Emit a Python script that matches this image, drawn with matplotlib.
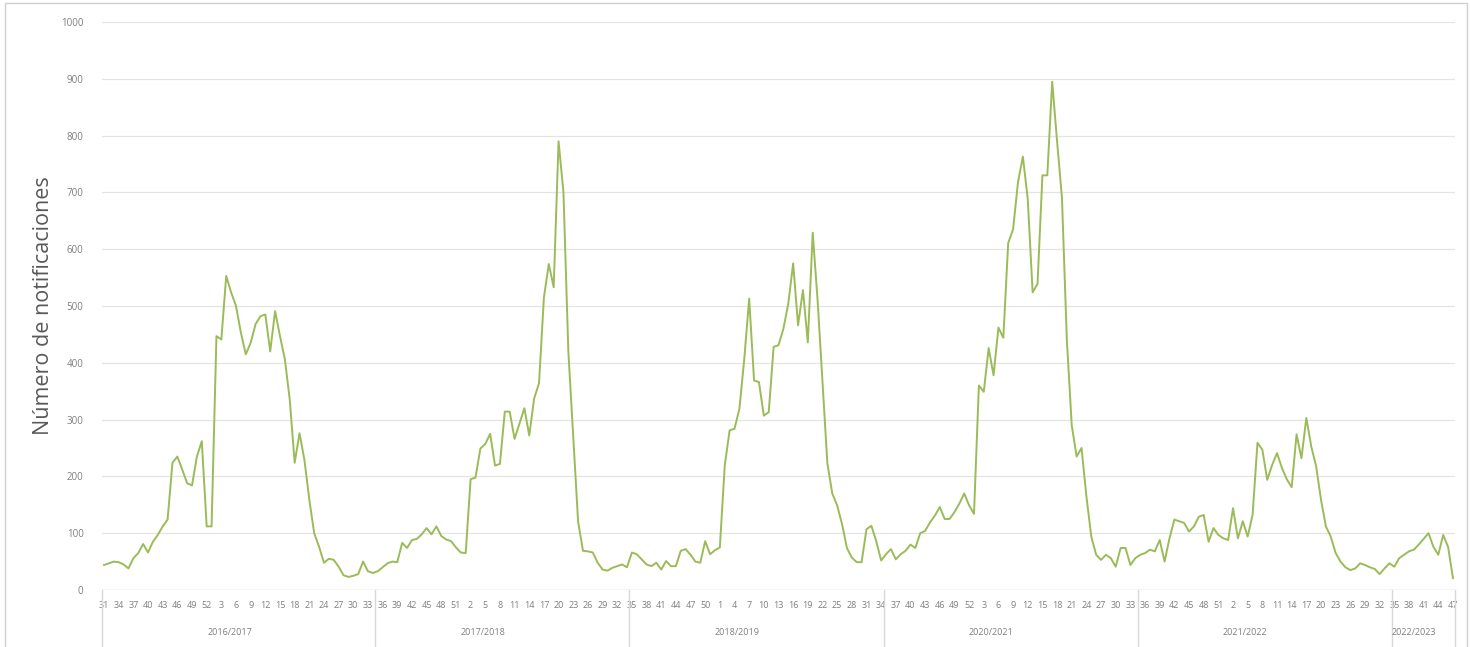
import matplotlib
matplotlib.use("Agg")
import matplotlib.pyplot as plt
import matplotlib.transforms as mtransforms
from matplotlib.patches import Rectangle

# ---------------- data ----------------
seasons = ["2016/2017", "2017/2018", "2018/2019", "2020/2021", "2021/2022", "2022/2023"]
season_first_week = [31, 35, 35, 35, 35, 35]
season_last_week = [34, 34, 34, 34, 34, 47]
season_crosses_year = [True, True, True, True, True, False]

notif_2016_17 = [44, 47, 50, 49, 45, 38, 56, 65, 81, 66,
                 85, 97, 112, 124, 224, 235, 212, 188, 184, 235,
                 262, 112, 112, 447, 441, 553, 524, 500, 453, 415,
                 435, 468, 482, 485, 420, 491, 447, 406, 335, 224,
                 276, 229, 159, 100, 76, 48, 55, 53, 41, 26,
                 23, 25, 28, 50, 33, 30]
notif_2017_18 = [33, 40, 47, 50, 49, 83, 74, 88, 90, 98,
                 109, 98, 112, 95, 89, 86, 75, 66, 65, 195,
                 198, 249, 257, 275, 219, 222, 314, 314, 266, 293,
                 320, 272, 337, 364, 515, 574, 533, 790, 700, 420,
                 270, 120, 69, 68, 66, 48, 36, 34, 39, 42, 45, 40]
notif_2018_19 = [66, 63, 54, 45, 42, 48, 36, 51, 42, 42,
                 69, 72, 62, 50, 48, 86, 63, 70, 75, 219,
                 281, 284, 319, 407, 513, 369, 366, 307, 313, 428,
                 431, 460, 504, 575, 466, 528, 436, 629, 510, 367,
                 223, 170, 149, 116, 74, 57, 49, 49, 107, 113, 86, 52]
notif_2020_21 = [63, 72, 54, 63, 69, 80, 74, 100, 104, 119,
                 131, 146, 125, 125, 137, 152, 170, 149, 134, 360,
                 349, 426, 378, 462, 444, 611, 635, 718, 763, 688,
                 524, 539, 730, 730, 895, 790, 690, 440, 290, 235,
                 250, 165, 94, 62, 53, 62, 56, 41, 74, 74, 44, 56]
notif_2021_22 = [62, 65, 71, 68, 88, 50, 91, 124, 121, 118,
                 103, 112, 129, 132, 85, 109, 97, 91, 88, 144,
                 91, 121, 94, 132, 259, 247, 194, 220, 241, 215,
                 195, 181, 274, 232, 303, 253, 218, 159, 112, 94,
                 65, 50, 40, 35, 38, 47, 44, 40, 37, 28, 38, 47]
notif_2022_23 = [41, 56, 62, 68, 71, 80, 90, 100, 76, 62, 97, 76, 21]

season_values = [notif_2016_17, notif_2017_18, notif_2018_19,
                 notif_2020_21, notif_2021_22, notif_2022_23]

# relative position (in categories) of each season label inside its group
season_label_shift = [-1.7, -4.0, -4.0, -4.0, -4.0, -2.0]

# ---------------- build categories ----------------
weeks, values, group_bounds = [], [], []
for first, last, cross, vals in zip(season_first_week, season_last_week,
                                     season_crosses_year, season_values):
    if cross:
        ws = list(range(first, 53)) + list(range(1, last + 1))
    else:
        ws = list(range(first, last + 1))
    start = len(weeks)
    weeks += ws
    values += vals[:len(ws)]
    group_bounds.append((start, len(weeks) - 1))

n = len(weeks)
x = list(range(n))

# ---------------- figure ----------------
W, H = 1470, 647
fig = plt.figure(figsize=(W / 100, H / 100), dpi=100)
plt.rcParams['font.family'] = ['Open Sans', 'DejaVu Sans']

ax_l, ax_r, ax_t, ax_b = 101.6, 1455.4, 22, 590
ax = fig.add_axes([ax_l / W, 1 - ax_b / H, (ax_r - ax_l) / W, (ax_b - ax_t) / H])

grid_c = "#e4e4e4"
text_c = "#7f7f7f"

ax.plot(x, values, color="#9bbb59", lw=1.4, solid_joinstyle="round", zorder=3)

ax.set_xlim(-0.5, n - 0.5)
ax.set_ylim(0, 1000)
ax.set_yticks(range(0, 1001, 100))
ax.yaxis.grid(True, color=grid_c, lw=0.9)
ax.set_axisbelow(True)
for s in ax.spines.values():
    s.set_visible(False)
ax.axhline(0, color="#d9d9d9", lw=1.0, zorder=2)

ax.tick_params(axis="y", length=0, pad=13, labelsize=7, labelcolor=text_c)
ax.set_xticks(x[::3])
ax.set_xticklabels([str(w) for w in weeks[::3]])
ax.tick_params(axis="x", length=0, pad=8, labelsize=6.5, labelcolor=text_c)

ax.set_ylabel("Número de notificaciones", fontsize=15.5, color="#595959", labelpad=5)

# multi-level category axis: season separators and labels
trans = mtransforms.blended_transform_factory(ax.transData, ax.transAxes)
sep_positions = [-0.5] + [b[1] + 0.5 for b in group_bounds]
for sx in sep_positions:
    ax.plot([sx, sx], [0, -0.11], transform=trans, color="#d9d9d9", lw=1.0,
            clip_on=False)
for name, (a, b), sh in zip(seasons, group_bounds, season_label_shift):
    cx = (a + b) / 2 + sh
    ax.text(cx, -0.074, name, transform=trans, ha="center", va="center",
            fontsize=6.5, color=text_c, clip_on=False)

# chart area border
fig.patches.append(Rectangle((5 / W, -0.01), (1467 - 5) / W, 1 - 3 / H + 0.01,
                             transform=fig.transFigure, fill=False,
                             edgecolor="#d0d0d0", lw=1.0))

fig.savefig("out.png", dpi=100)
